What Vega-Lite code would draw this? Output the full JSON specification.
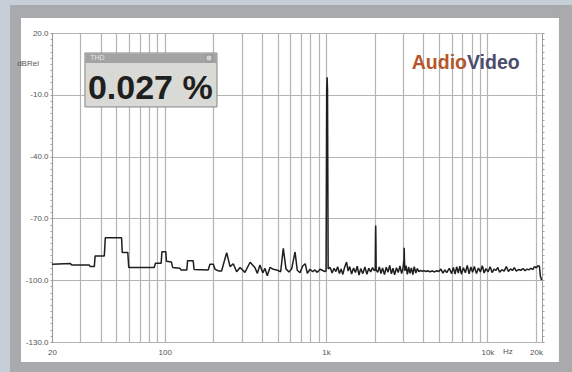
{
  "$schema": "https://vega.github.io/schema/vega-lite/v6.json",
  "width": 490,
  "height": 309,
  "autosize": {"type": "none"},
  "padding": {"left": 52, "top": 33, "right": 30, "bottom": 30},
  "background": "#ffffff",
  "config": {"view": {"stroke": "#9c9c9c", "strokeWidth": 1}},
  "resolve": {"axis": {"x": "independent", "y": "independent"}},
  "layer": [
    {
      "data": {"values": [
        {"f": 20, "db": -92.2}, {"f": 26, "db": -91.9}, {"f": 26.5, "db": -92.6}, {"f": 34, "db": -92.6},
        {"f": 34.5, "db": -93.4}, {"f": 36.6, "db": -93.4}, {"f": 37, "db": -88.2}, {"f": 42.2, "db": -88.2},
        {"f": 42.8, "db": -79.4}, {"f": 54, "db": -79.4}, {"f": 54.5, "db": -86.5}, {"f": 59, "db": -86.5},
        {"f": 59.8, "db": -93.8}, {"f": 86, "db": -93.8}, {"f": 87.5, "db": -91.8}, {"f": 95, "db": -91.8},
        {"f": 96, "db": -86.2}, {"f": 101.5, "db": -86.2}, {"f": 102.5, "db": -90.8}, {"f": 110, "db": -91.2},
        {"f": 112, "db": -93.8}, {"f": 124, "db": -94.2}, {"f": 126, "db": -95}, {"f": 137, "db": -95},
        {"f": 138.5, "db": -90.5}, {"f": 150, "db": -90.5}, {"f": 152, "db": -94.8}, {"f": 186, "db": -95},
        {"f": 190.5, "db": -92.3}, {"f": 200, "db": -92.3}, {"f": 205, "db": -94.7}, {"f": 215, "db": -95.5},
        {"f": 225, "db": -95.5}, {"f": 242, "db": -86.6}, {"f": 254, "db": -93.4}, {"f": 266, "db": -92},
        {"f": 279, "db": -95.9}, {"f": 293, "db": -93.8}, {"f": 314, "db": -96.2}, {"f": 338, "db": -91.3},
        {"f": 362, "db": -93.8}, {"f": 375, "db": -96.7}, {"f": 389, "db": -92.6}, {"f": 405, "db": -96.4},
        {"f": 418, "db": -94.3}, {"f": 432, "db": -97.8}, {"f": 449, "db": -93.8}, {"f": 471, "db": -94.7},
        {"f": 494, "db": -95}, {"f": 523, "db": -95.9}, {"f": 543, "db": -84.5}, {"f": 564, "db": -94.5},
        {"f": 589, "db": -96}, {"f": 612, "db": -94.5}, {"f": 642, "db": -86.3}, {"f": 663, "db": -95.2},
        {"f": 689, "db": -96.4}, {"f": 716, "db": -93.1}, {"f": 743, "db": -92}, {"f": 765, "db": -96.7},
        {"f": 795, "db": -94.7}, {"f": 826, "db": -95.9}, {"f": 853, "db": -95}, {"f": 882, "db": -96.2},
        {"f": 917, "db": -94.7}, {"f": 953, "db": -95.3}, {"f": 985, "db": -95.8}, {"f": 1000, "db": -95.5},
        {"f": 1009, "db": -8}, {"f": 1015, "db": -1.5}, {"f": 1021, "db": -8}, {"f": 1030, "db": -94.5},
        {"f": 1060, "db": -93.8}, {"f": 1090, "db": -96.5}, {"f": 1120, "db": -94.2}, {"f": 1150, "db": -95.8},
        {"f": 1180, "db": -93.5}, {"f": 1210, "db": -96.8}, {"f": 1240, "db": -94.6}, {"f": 1270, "db": -97.2},
        {"f": 1300, "db": -94}, {"f": 1340, "db": -91.2}, {"f": 1370, "db": -95.6}, {"f": 1400, "db": -93.4},
        {"f": 1440, "db": -97}, {"f": 1480, "db": -94.1}, {"f": 1520, "db": -96.3}, {"f": 1560, "db": -93.2},
        {"f": 1600, "db": -97.5}, {"f": 1640, "db": -94.4}, {"f": 1690, "db": -96.8}, {"f": 1740, "db": -93.6},
        {"f": 1790, "db": -97.1}, {"f": 1840, "db": -94.2}, {"f": 1890, "db": -96}, {"f": 1940, "db": -93.9},
        {"f": 1990, "db": -95.4}, {"f": 2018, "db": -95}, {"f": 2024, "db": -80.5}, {"f": 2030, "db": -73.5},
        {"f": 2036, "db": -80.5}, {"f": 2044, "db": -95}, {"f": 2090, "db": -96.2}, {"f": 2140, "db": -93.5},
        {"f": 2190, "db": -96.8}, {"f": 2240, "db": -94}, {"f": 2300, "db": -97.3}, {"f": 2360, "db": -93.7},
        {"f": 2420, "db": -96.1}, {"f": 2480, "db": -92.8}, {"f": 2540, "db": -96.9}, {"f": 2600, "db": -94.2},
        {"f": 2660, "db": -97.4}, {"f": 2730, "db": -93.9}, {"f": 2800, "db": -96.3}, {"f": 2870, "db": -93.1},
        {"f": 2940, "db": -96.8}, {"f": 3000, "db": -94}, {"f": 3040, "db": -90}, {"f": 3050, "db": -84.2},
        {"f": 3060, "db": -90}, {"f": 3080, "db": -95.5}, {"f": 3130, "db": -92.9}, {"f": 3190, "db": -97.2},
        {"f": 3250, "db": -93.6}, {"f": 3310, "db": -96.7}, {"f": 3380, "db": -94}, {"f": 3450, "db": -97.3},
        {"f": 3520, "db": -93.4}, {"f": 3600, "db": -96.5}, {"f": 3680, "db": -94.3}, {"f": 3760, "db": -95.9},
        {"f": 3850, "db": -95.2}, {"f": 3950, "db": -95.7}, {"f": 4050, "db": -95.3}, {"f": 4150, "db": -95.8},
        {"f": 4250, "db": -95.4}, {"f": 4400, "db": -95.9}, {"f": 4550, "db": -95.5}, {"f": 4700, "db": -96},
        {"f": 4850, "db": -95.4}, {"f": 5000, "db": -95.8}, {"f": 5150, "db": -94.6}, {"f": 5300, "db": -96.6},
        {"f": 5450, "db": -95}, {"f": 5600, "db": -96.3}, {"f": 5800, "db": -94.2}, {"f": 6000, "db": -96.8},
        {"f": 6150, "db": -93.8}, {"f": 6300, "db": -97}, {"f": 6450, "db": -93.5}, {"f": 6600, "db": -96.5},
        {"f": 6750, "db": -93.2}, {"f": 6900, "db": -97.1}, {"f": 7100, "db": -94}, {"f": 7300, "db": -96.4},
        {"f": 7500, "db": -92.8}, {"f": 7700, "db": -96.9}, {"f": 7900, "db": -93.6}, {"f": 8100, "db": -96.2},
        {"f": 8300, "db": -93.3}, {"f": 8550, "db": -96.8}, {"f": 8800, "db": -94.1}, {"f": 9050, "db": -96},
        {"f": 9300, "db": -93}, {"f": 9550, "db": -96.5}, {"f": 9800, "db": -94.4}, {"f": 10100, "db": -95.9},
        {"f": 10400, "db": -93.5}, {"f": 10700, "db": -96.3}, {"f": 11000, "db": -94.6}, {"f": 11300, "db": -95.2},
        {"f": 11600, "db": -93.8}, {"f": 11900, "db": -96.1}, {"f": 12300, "db": -94.9}, {"f": 12700, "db": -95.6},
        {"f": 13100, "db": -93.4}, {"f": 13500, "db": -95.8}, {"f": 13900, "db": -94.5}, {"f": 14300, "db": -95.3},
        {"f": 14700, "db": -93.9}, {"f": 15100, "db": -95.6}, {"f": 15600, "db": -94.8}, {"f": 16100, "db": -95.2},
        {"f": 16600, "db": -94.3}, {"f": 17100, "db": -95.4}, {"f": 17600, "db": -94.6}, {"f": 18100, "db": -95},
        {"f": 18600, "db": -94.2}, {"f": 19100, "db": -94.8}, {"f": 19600, "db": -93.4}, {"f": 20100, "db": -94},
        {"f": 20600, "db": -93}, {"f": 21000, "db": -93.2}, {"f": 21300, "db": -98}, {"f": 21700, "db": -100}
      ]},
      "mark": {"type": "line", "color": "#1e1e1e", "strokeWidth": 1.5, "strokeJoin": "bevel"},
      "encoding": {
        "x": {"field": "f", "type": "quantitative",
          "scale": {"type": "log", "domain": [20, 21800], "nice": false},
          "axis": {
            "orient": "bottom",
            "values": [20,30,40,50,60,70,80,90,100,200,300,400,500,600,700,800,900,1000,2000,3000,4000,5000,6000,7000,8000,9000,10000,20000],
            "labelExpr": "datum.value == 20 ? '20' : datum.value == 100 ? '100' : datum.value == 1000 ? '1k' : datum.value == 10000 ? '10k' : datum.value == 20000 ? '20k' : ''",
            "grid": true, "gridColor": "#b4b4b4", "gridWidth": 1.2,
            "ticks": false, "domain": false, "labelPadding": 6, "labelFontSize": 8, "labelColor": "#555555",
            "labelFont": "Liberation Sans", "labelOverlap": false, "labelFlush": false, "title": null
          }},
        "y": {"field": "db", "type": "quantitative",
          "scale": {"domain": [-130, 20], "nice": false, "zero": false},
          "axis": {
            "orient": "left",
            "values": [20,17,14,11,8,5,2,-1,-4,-7,-10,-13,-16,-19,-22,-25,-28,-31,-34,-37,-40,-43,-46,-49,-52,-55,-58,-61,-64,-67,-70,-73,-76,-79,-82,-85,-88,-91,-94,-97,-100,-103,-106,-109,-112,-115,-118,-121,-124,-127,-130],
            "labelExpr": "(datum.value - 20) % 30 == 0 ? datum.value + '.0' : ''",
            "grid": true, "gridColor": "#b4b4b4", "gridWidth": 1.2,
            "gridOpacity": {"condition": {"test": "(datum.value - 20) % 30 == 0", "value": 1}, "value": 0},
            "ticks": true, "tickSize": 2, "tickColor": "#a0a0a0", "domain": true, "domainColor": "#9c9c9c",
            "labelPadding": 2, "labelFontSize": 8, "labelColor": "#555555", "labelFont": "Liberation Sans",
            "labelOverlap": false, "labelFlush": false, "title": null
          }}
      }
    },
    {
      "data": {"values": [{}]},
      "mark": {"type": "rect", "color": "#c6ced8", "clip": false},
      "encoding": {
        "x": {"datum": 5, "type": "quantitative", "scale": {"type": "log", "domain": [20, 21800], "nice": false}, "axis": null},
        "x2": {"datum": 10.98},
        "y": {"datum": -160, "type": "quantitative", "scale": {"domain": [-130, 20], "nice": false, "zero": false}, "axis": null},
        "y2": {"datum": 45}
      }
    },
    {
      "data": {"values": [{}]},
      "mark": {"type": "rect", "color": "#c6ced8", "clip": false},
      "encoding": {
        "x": {"datum": 5, "type": "quantitative", "scale": {"type": "log", "domain": [20, 21800], "nice": false}, "axis": null},
        "x2": {"datum": 40000},
        "y": {"datum": 33.6, "type": "quantitative", "scale": {"domain": [-130, 20], "nice": false, "zero": false}, "axis": null},
        "y2": {"datum": 45}
      }
    },
    {
      "data": {"values": [{}]},
      "mark": {"type": "rect", "color": "#a9aaae", "clip": false},
      "encoding": {
        "x": {"datum": 10.98, "type": "quantitative", "scale": {"type": "log", "domain": [20, 21800], "nice": false}, "axis": null},
        "x2": {"datum": 12.85},
        "y": {"datum": -160, "type": "quantitative", "scale": {"domain": [-130, 20], "nice": false, "zero": false}, "axis": null},
        "y2": {"datum": 33.6}
      }
    },
    {
      "data": {"values": [{}]},
      "mark": {"type": "rect", "color": "#a9aaae", "clip": false},
      "encoding": {
        "x": {"datum": 10.98, "type": "quantitative", "scale": {"type": "log", "domain": [20, 21800], "nice": false}, "axis": null},
        "x2": {"datum": 40000},
        "y": {"datum": 27.3, "type": "quantitative", "scale": {"domain": [-130, 20], "nice": false, "zero": false}, "axis": null},
        "y2": {"datum": 33.6}
      }
    },
    {
      "data": {"values": [{}]},
      "mark": {"type": "rect", "color": "#a9aaae", "clip": false},
      "encoding": {
        "x": {"datum": 27770, "type": "quantitative", "scale": {"type": "log", "domain": [20, 21800], "nice": false}, "axis": null},
        "x2": {"datum": 40000},
        "y": {"datum": -160, "type": "quantitative", "scale": {"domain": [-130, 20], "nice": false, "zero": false}, "axis": null},
        "y2": {"datum": 33.6}
      }
    },
    {
      "data": {"values": [{}]},
      "mark": {"type": "rect", "color": "#a9aaae", "clip": false},
      "encoding": {
        "x": {"datum": 10.98, "type": "quantitative", "scale": {"type": "log", "domain": [20, 21800], "nice": false}, "axis": null},
        "x2": {"datum": 40000},
        "y": {"datum": -160, "type": "quantitative", "scale": {"domain": [-130, 20], "nice": false, "zero": false},
          "axis": {"orient": "right", "values": [20,17,14,11,8,5,2,-1,-4,-7,-10,-13,-16,-19,-22,-25,-28,-31,-34,-37,-40,-43,-46,-49,-52,-55,-58,-61,-64,-67,-70,-73,-76,-79,-82,-85,-88,-91,-94,-97,-100,-103,-106,-109,-112,-115,-118,-121,-124,-127,-130],
            "labels": false, "grid": false, "domain": false, "ticks": true, "tickSize": 2, "tickColor": "#a0a0a0", "title": null}},
        "y2": {"datum": -139.7}
      }
    },
    {
      "data": {"values": [{}]},
      "mark": {"type": "text", "text": "dBRel", "align": "right", "baseline": "middle", "fontSize": 8, "font": "Liberation Sans", "color": "#555555", "clip": false},
      "encoding": {
        "x": {"datum": 16.6, "type": "quantitative", "scale": {"type": "log", "domain": [20, 21800], "nice": false}, "axis": null},
        "y": {"datum": 5, "type": "quantitative", "scale": {"domain": [-130, 20], "nice": false, "zero": false}, "axis": null}
      }
    },
    {
      "data": {"values": [{}]},
      "mark": {"type": "text", "text": "Hz", "align": "center", "baseline": "middle", "fontSize": 8, "font": "Liberation Sans", "color": "#555555", "clip": false},
      "encoding": {
        "x": {"datum": 13400, "type": "quantitative", "scale": {"type": "log", "domain": [20, 21800], "nice": false}, "axis": null},
        "y": {"datum": -134.8, "type": "quantitative", "scale": {"domain": [-130, 20], "nice": false, "zero": false}, "axis": null}
      }
    },
    {
      "data": {"values": [{}]},
      "mark": {"type": "rect", "color": "#d9d9d5", "stroke": "#858585", "strokeWidth": 1},
      "encoding": {
        "x": {"datum": 32.0, "type": "quantitative", "scale": {"type": "log", "domain": [20, 21800], "nice": false}, "axis": null},
        "x2": {"datum": 210.7},
        "y": {"datum": -15.9, "type": "quantitative", "scale": {"domain": [-130, 20], "nice": false, "zero": false}, "axis": null},
        "y2": {"datum": 10.29}
      }
    },
    {
      "data": {"values": [{}]},
      "mark": {"type": "rect", "color": "#a3a3a3"},
      "encoding": {
        "x": {"datum": 32.3, "type": "quantitative", "scale": {"type": "log", "domain": [20, 21800], "nice": false}, "axis": null},
        "x2": {"datum": 209.5},
        "y": {"datum": 5.44, "type": "quantitative", "scale": {"domain": [-130, 20], "nice": false, "zero": false}, "axis": null},
        "y2": {"datum": 10.0}
      }
    },
    {
      "data": {"values": [{}]},
      "mark": {"type": "rect", "color": "#cfcfcf", "stroke": "#7a7a7a", "strokeWidth": 0.7},
      "encoding": {
        "x": {"datum": 180.1, "type": "quantitative", "scale": {"type": "log", "domain": [20, 21800], "nice": false}, "axis": null},
        "x2": {"datum": 196.2},
        "y": {"datum": 6.4, "type": "quantitative", "scale": {"domain": [-130, 20], "nice": false, "zero": false}, "axis": null},
        "y2": {"datum": 9.3}
      }
    },
    {
      "data": {"values": [{}]},
      "mark": {"type": "text", "text": "THD", "align": "left", "baseline": "middle", "fontSize": 7, "font": "Liberation Sans", "color": "#e6e6e6"},
      "encoding": {
        "x": {"datum": 34.5, "type": "quantitative", "scale": {"type": "log", "domain": [20, 21800], "nice": false}, "axis": null},
        "y": {"datum": 7.86, "type": "quantitative", "scale": {"domain": [-130, 20], "nice": false, "zero": false}, "axis": null}
      }
    },
    {
      "data": {"values": [{}]},
      "mark": {"type": "text", "text": "0.027 %", "align": "left", "baseline": "alphabetic", "fontSize": 34, "fontWeight": "bold", "font": "Liberation Sans", "color": "#1f1f1f"},
      "encoding": {
        "x": {"datum": 33.4, "type": "quantitative", "scale": {"type": "log", "domain": [20, 21800], "nice": false}, "axis": null},
        "y": {"datum": -11.8, "type": "quantitative", "scale": {"domain": [-130, 20], "nice": false, "zero": false}, "axis": null}
      }
    },
    {
      "data": {"values": [{}]},
      "mark": {"type": "text", "text": "Audio", "align": "right", "baseline": "alphabetic", "fontSize": 19.5, "fontWeight": "bold", "font": "Liberation Sans", "color": "#b5552c"},
      "encoding": {
        "x": {"datum": 7470, "type": "quantitative", "scale": {"type": "log", "domain": [20, 21800], "nice": false}, "axis": null},
        "y": {"datum": 2.52, "type": "quantitative", "scale": {"domain": [-130, 20], "nice": false, "zero": false}, "axis": null}
      }
    },
    {
      "data": {"values": [{}]},
      "mark": {"type": "text", "text": "Video", "align": "left", "baseline": "alphabetic", "fontSize": 19.5, "fontWeight": "bold", "font": "Liberation Sans", "color": "#4a4c6c"},
      "encoding": {
        "x": {"datum": 7470, "type": "quantitative", "scale": {"type": "log", "domain": [20, 21800], "nice": false}, "axis": null},
        "y": {"datum": 2.52, "type": "quantitative", "scale": {"domain": [-130, 20], "nice": false, "zero": false}, "axis": null}
      }
    }
  ]
}
